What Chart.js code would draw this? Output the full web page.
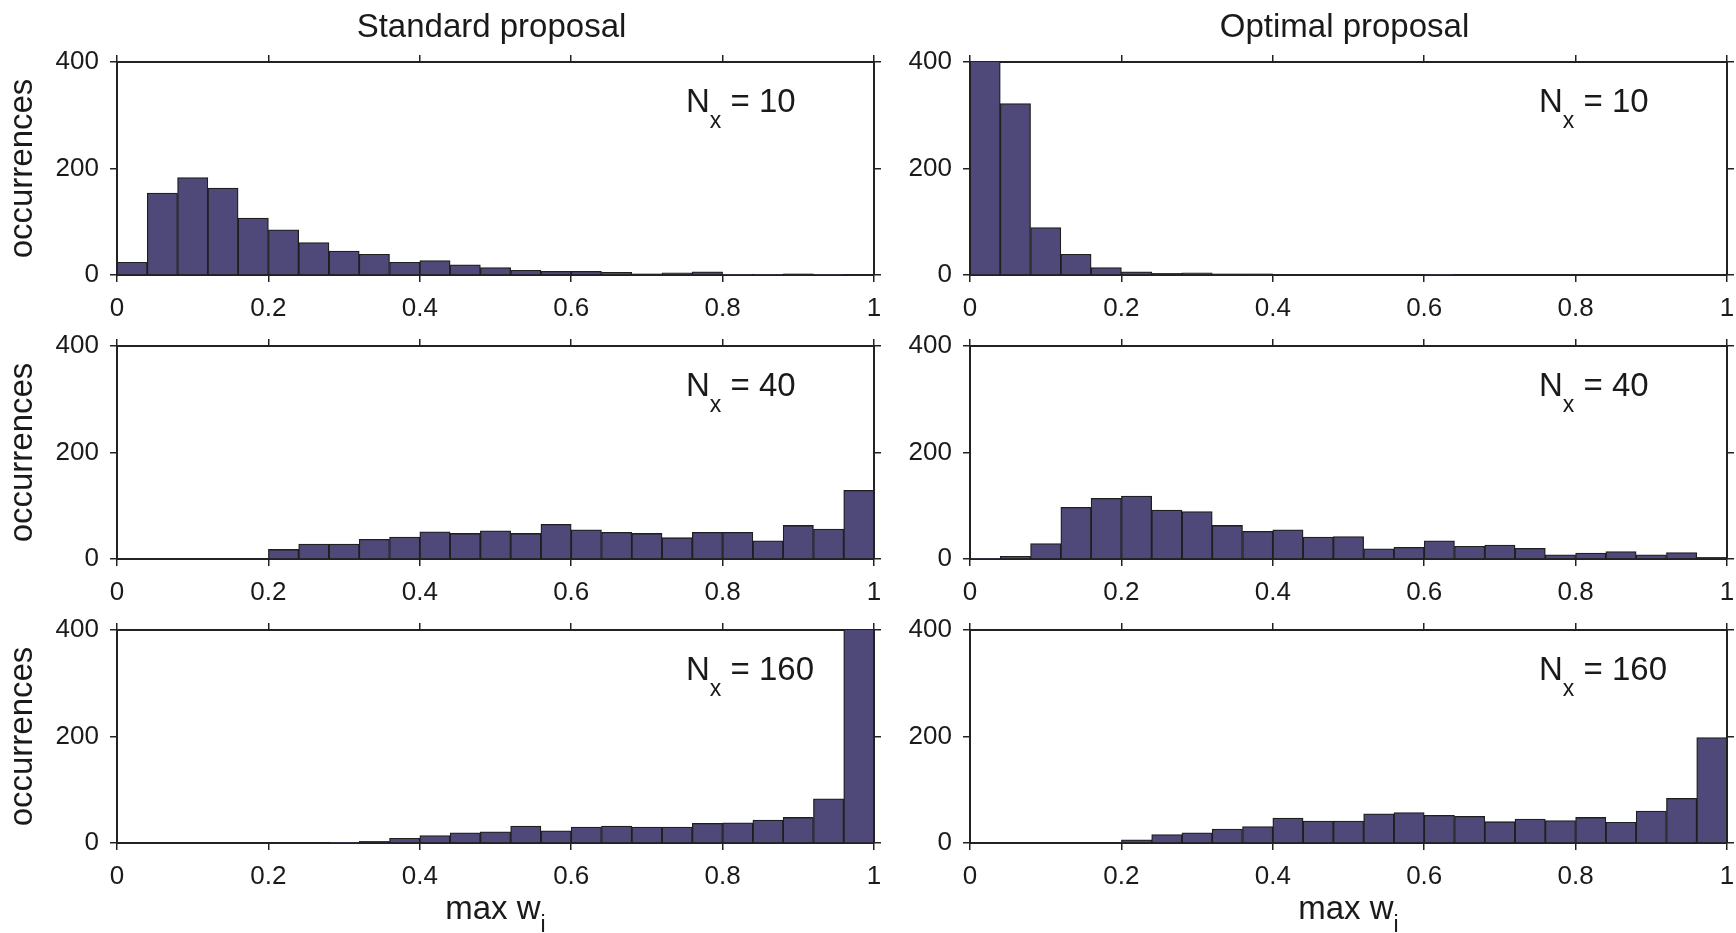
<!DOCTYPE html>
<html>
<head>
<meta charset="utf-8">
<script src="https://cdn.jsdelivr.net/npm/chart.js@4.4.1/dist/chart.umd.min.js"></script>
<style>
  body { margin: 0; background: #fff; width: 1736px; height: 933px; overflow: hidden; position: relative;
         font-family: "Liberation Sans", Arial, sans-serif; color: #1a1a1a; }
  canvas { position: absolute; }
  .lbl { position: absolute; font-size: 33px; line-height: 33px; white-space: nowrap; }
  .sub { position: relative; font-size: 23px; top: 16px; }
  .ctr { transform: translateX(-50%); }
</style>
</head>
<body>
<script>
// bin centres of max w_i (width 0.04)
const bins = [0.02, 0.06, 0.10, 0.14, 0.18, 0.22, 0.26, 0.30, 0.34, 0.38, 0.42, 0.46, 0.50,
              0.54, 0.58, 0.62, 0.66, 0.70, 0.74, 0.78, 0.82, 0.86, 0.90, 0.94, 0.98];

// occurrences per bin
const std10  = [24, 154, 183, 163, 107, 85, 61, 45, 39, 24, 27, 19, 14, 9, 7, 7, 5, 2, 4, 6, 1, 1, 2, 1, 0];
const opt10  = [519, 322, 89, 39, 14, 6, 3, 4, 2, 2, 0, 0, 0, 0, 0, 1, 0, 0, 0, 0, 0, 0, 0, 0, 0];
const std40  = [0, 0, 0, 0, 0, 18, 28, 28, 37, 41, 51, 48, 53, 48, 65, 55, 50, 48, 40, 50, 50, 34, 63, 56, 129];
const opt40  = [1, 5, 29, 97, 114, 118, 92, 89, 63, 52, 55, 41, 42, 19, 22, 34, 24, 26, 20, 8, 11, 14, 8, 12, 3];
const std160 = [0, 0, 0, 0, 0, 0, 0, 1, 3, 9, 14, 19, 21, 32, 23, 30, 32, 30, 30, 37, 38, 43, 48, 83, 508];
const opt160 = [0, 0, 0, 0, 0, 6, 16, 19, 26, 31, 47, 41, 41, 55, 57, 52, 50, 40, 45, 42, 48, 39, 60, 84, 198];

const xTicks = [0, 0.2, 0.4, 0.6, 0.8, 1];
const yTicks = [0, 200, 400];
const columnTitles = ['Standard proposal', 'Optimal proposal'];
const nxValues = [10, 40, 160];

const panels = [
  [std10, opt10],
  [std40, opt40],
  [std160, opt160]
];

Chart.defaults.font.family = '"Liberation Sans", Arial, sans-serif';
Chart.defaults.color = '#1a1a1a';

const ink = '#222';
const plotLefts = [117, 970];
const plotTops = [62, 346, 630];
const plotW = 757, plotH = 213;
const padTop = 26, padRight = 20; // room so chart.js does not shrink the plot for tick labels

const setTicks = list => s => { s.ticks = list.map(v => ({ value: v })); };

const edgeAxis = extra => Object.assign({
  type: 'linear',
  offset: false,
  grid: { drawOnChartArea: false, drawTicks: true, tickLength: 7, color: ink, tickColor: ink, lineWidth: 1.5, offset: false },
  border: { display: true, color: ink, width: 2 }
}, extra);

const addLabel = (html, left, top, centred) => {
  const d = document.createElement('div');
  d.className = 'lbl' + (centred ? ' ctr' : '');
  d.style.left = left + 'px';
  d.style.top = top + 'px';
  d.innerHTML = html;
  document.body.appendChild(d);
};

const makePanel = (values, row, col) => {
  const yw = col === 0 ? 117 : 80;
  const canvas = document.createElement('canvas');
  canvas.width = yw + plotW + 8 + padRight;
  canvas.height = padTop + 8 + plotH + 50;
  canvas.style.left = (plotLefts[col] - yw) + 'px';
  canvas.style.top = (plotTops[row] - padTop - 8) + 'px';
  document.body.appendChild(canvas);

  new Chart(canvas.getContext('2d'), {
    type: 'bar',
    data: {
      datasets: [{
        data: bins.map((b, i) => ({ x: b, y: values[i] })),
        backgroundColor: '#4e4979',
        borderColor: '#1f1f1f',
        borderWidth: 1.3,
        barPercentage: 1,
        categoryPercentage: 1
      }]
    },
    options: {
      responsive: false,
      animation: false,
      devicePixelRatio: 1,
      layout: { padding: { top: padTop, left: 0, right: padRight, bottom: 0 } },
      plugins: { legend: { display: false }, tooltip: { enabled: false } },
      scales: {
        x: edgeAxis({
          position: 'bottom', min: 0, max: 1,
          afterBuildTicks: setTicks(xTicks),
          afterFit: s => { s.height = 50; },
          ticks: { font: { size: 26 }, padding: 11, maxRotation: 0, autoSkip: false, callback: v => String(v) }
        }),
        x2: edgeAxis({
          position: 'top', min: 0, max: 1,
          afterBuildTicks: setTicks(xTicks),
          afterFit: s => { s.height = 8; },
          ticks: { display: false }
        }),
        y: edgeAxis({
          position: 'left', min: 0, max: 400,
          afterBuildTicks: setTicks(yTicks),
          afterFit: s => { s.width = yw; },
          ticks: { font: { size: 26 }, padding: 11, callback: v => String(v) },
          title: { display: col === 0, text: 'occurrences', font: { size: 33 }, padding: { top: 3, bottom: 0 } }
        }),
        y2: edgeAxis({
          position: 'right', min: 0, max: 400,
          afterBuildTicks: setTicks(yTicks),
          afterFit: s => { s.width = 8; },
          ticks: { display: false }
        })
      }
    }
  });

  addLabel('N<span class="sub">x</span> = ' + nxValues[row], plotLefts[col] + 569, plotTops[row] + 22);
};

window.onload = () => {
  panels.forEach((pair, row) => pair.forEach((vals, col) => makePanel(vals, row, col)));
  columnTitles.forEach((t, col) => addLabel(t, plotLefts[col] + plotW / 2 - 4, 9, true));
  plotLefts.forEach(l => addLabel('max w<span class="sub" style="top:13px">i</span>', l + plotW / 2, 891, true));
};
</script>
</body>
</html>
